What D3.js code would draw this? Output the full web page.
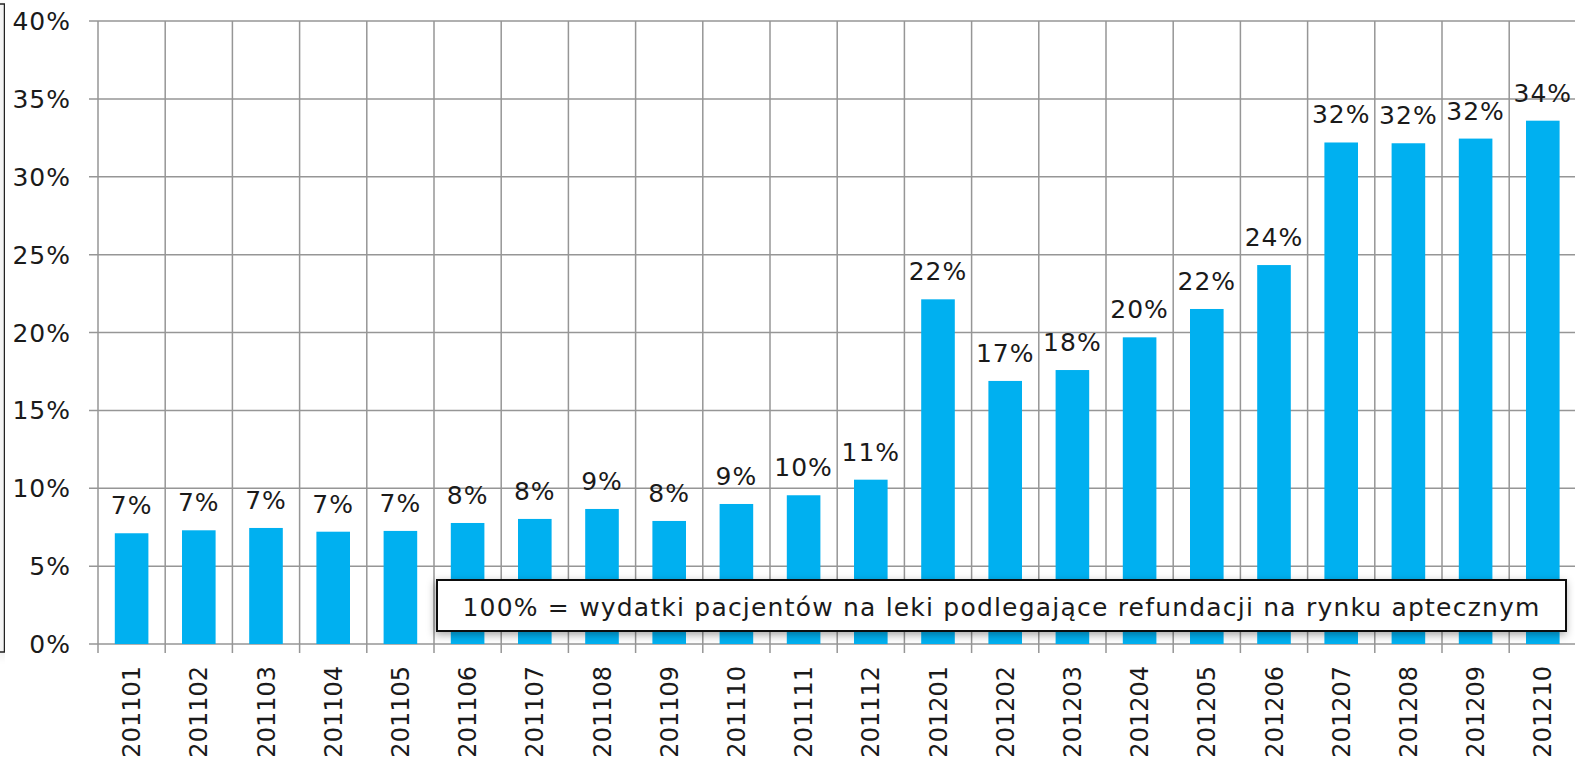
<!DOCTYPE html>
<html>
<head>
<meta charset="utf-8">
<script src="https://cdn.jsdelivr.net/npm/d3@7"></script>
<style>
  html, body { margin: 0; padding: 0; background: #fff; overflow: hidden; }
  svg { display: block; font-family: "DejaVu Sans", Verdana, sans-serif; }
</style>
</head>
<body>
<div class="chart"></div>
<script>
// months (yyyymm) and share of patient spending, in %
let months = ["201101", "201102", "201103", "201104", "201105", "201106", "201107", "201108",
	"201109", "201110", "201111", "201112", "201201", "201202", "201203", "201204",
	"201205", "201206", "201207", "201208", "201209", "201210"];
let shares = [7.11, 7.30, 7.45, 7.21, 7.26, 7.77, 8.03, 8.67, 7.90, 8.99, 9.55, 10.55,
	22.13, 16.89, 17.59, 19.69, 21.51, 24.33, 32.2, 32.15, 32.45, 33.6];
let yTicks = [0, 5, 10, 15, 20, 25, 30, 35, 40];
let note = "100% = wydatki pacjentów na leki podlegające refundacji na rynku aptecznym";

let width = 1575, height = 763;

let svg = d3.select(".chart")
	.append("svg")
	.attr("width", width)
	.attr("height", height);

let defs = svg.append("defs");
let shadow = defs.append("filter").attr("id", "shadow")
	.attr("x", "-5%").attr("y", "-30%").attr("width", "110%").attr("height", "170%");
shadow.append("feDropShadow")
	.attr("dx", -1).attr("dy", 3).attr("stdDeviation", 4)
	.attr("flood-color", "#000").attr("flood-opacity", 0.35);

let x = d3.scaleBand()
	.domain(months)
	.range([98, 98 + 67.2 * months.length])
	.paddingInner(0.5)
	.paddingOuter(0.25);

let y = d3.scaleLinear().domain([0, 40]).range([644, 21]);

// box edge peeking in on the left
svg.append("path")
	.attr("d", "M0,4 H4.5 V652 H0")
	.attr("fill", "none")
	.attr("stroke", "#222")
	.attr("stroke-width", 1.5)
	.attr("filter", "url(#shadow)");

let gridColor = "#969696";

// horizontal gridlines + y tick marks
svg.append("g").selectAll("line")
	.data(yTicks)
	.enter().append("line")
	.attr("x1", 89).attr("x2", width)
	.attr("y1", d => y(d)).attr("y2", d => y(d))
	.attr("stroke", gridColor).attr("stroke-width", 1.5);

// vertical gridlines between categories + x tick marks
let step = x.step();
svg.append("g").selectAll("line")
	.data(d3.range(months.length + 1))
	.enter().append("line")
	.attr("x1", i => x.range()[0] + i * step).attr("x2", i => x.range()[0] + i * step)
	.attr("y1", y(40)).attr("y2", y(0) + 9)
	.attr("stroke", gridColor).attr("stroke-width", 1.5);

// y axis labels
svg.append("g").selectAll("text")
	.data(yTicks)
	.enter().append("text")
	.attr("x", 71)
	.attr("y", d => y(d))
	.attr("dy", "0.36em")
	.attr("text-anchor", "end")
	.attr("font-size", 25)
	.attr("letter-spacing", 1)
	.attr("fill", "#1a1a1a")
	.text(d => d + "%");

// bars
svg.append("g").selectAll("rect")
	.data(shares)
	.enter().append("rect")
	.attr("x", (d, i) => x(months[i]))
	.attr("width", x.bandwidth())
	.attr("y", d => y(d))
	.attr("height", d => y(0) - y(d))
	.attr("fill", "#00B0F0");

// value labels
svg.append("g").selectAll("text")
	.data(shares)
	.enter().append("text")
	.attr("x", (d, i) => x(months[i]) + x.bandwidth() / 2)
	.attr("y", d => y(d) - 19)
	.attr("text-anchor", "middle")
	.attr("font-size", 25)
	.attr("letter-spacing", 1)
	.attr("fill", "#1a1a1a")
	.text(d => d3.format(".0%")(d / 100));

// x axis labels, rotated
svg.append("g").selectAll("text")
	.data(months)
	.enter().append("text")
	.attr("transform", d => "translate(" + (x(d) + x.bandwidth() / 2) + "," + 666 + ") rotate(-90)")
	.attr("dy", "0.36em")
	.attr("text-anchor", "end")
	.attr("font-size", 24)
	.attr("fill", "#1a1a1a")
	.text(d => d);

// note box
let noteG = svg.append("g");
noteG.append("rect")
	.attr("x", 437).attr("y", 580)
	.attr("width", 1566 - 437).attr("height", 631 - 580)
	.attr("fill", "#fff")
	.attr("stroke", "#111")
	.attr("stroke-width", 2)
	.attr("filter", "url(#shadow)");
noteG.append("text")
	.attr("x", (437 + 1566) / 2)
	.attr("y", 616)
	.attr("text-anchor", "middle")
	.attr("font-size", 25)
	.attr("letter-spacing", 1.2)
	.attr("fill", "#1a1a1a")
	.text(note);
</script>
</body>
</html>
